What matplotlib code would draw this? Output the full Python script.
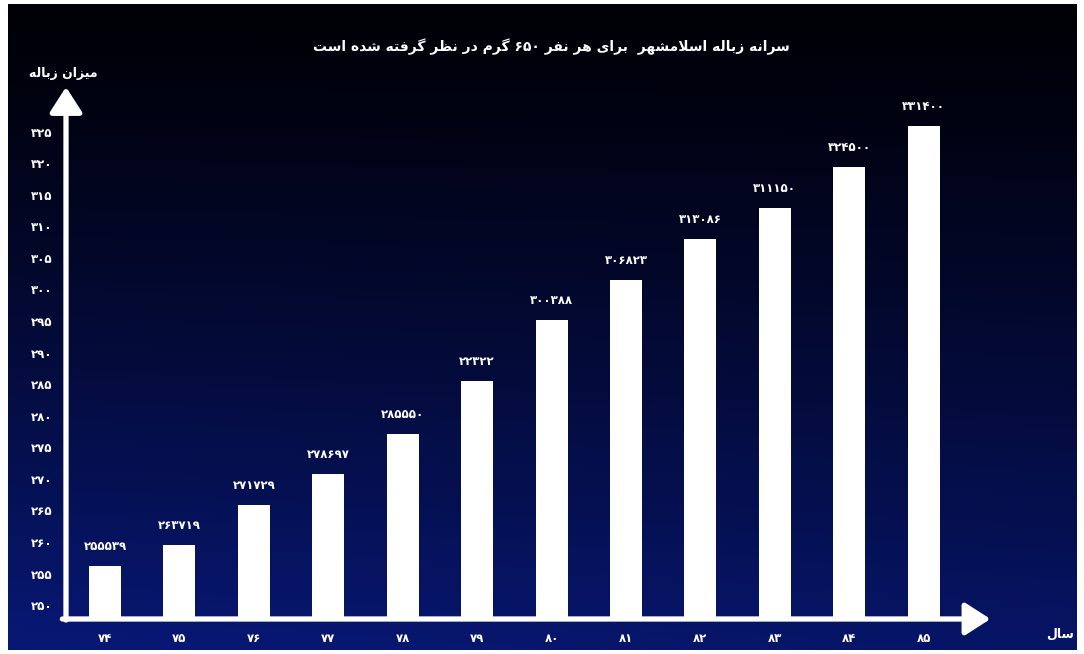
import matplotlib
matplotlib.use('Agg')
import matplotlib.pyplot as plt
import numpy as np

plt.rcParams['font.family'] = ['DejaVu Sans']

# ---------- Data ----------
years = [74, 75, 76, 77, 78, 79, 80, 81, 82, 83, 84, 85]
# bar tops as drawn, read against the y axis (thousand-unit scale)
bar_tops = [256.2, 259.5, 265.8, 270.7, 277.1, 285.5, 295.2, 301.5, 308.0, 312.9, 319.4, 325.9]
# value text printed above each bar
value_labels = ['255539', '263719', '271729', '278697', '285550', '22322',
                '300388', '306823', '313086', '311150', '324500', '331400']
y_ticks = [250, 255, 260, 265, 270, 275, 280, 285, 290, 295, 300, 305, 310, 315, 320, 325]

title_txt = 'سرانه زباله اسلامشهر  برای هر نفر 650 گرم در نظر گرفته شده است'
ylabel_txt = 'میزان زباله'
xlabel_txt = 'سال'

# ---------- Persian text helpers (matplotlib has no shaping / bidi) ----------
FA_DIGITS = str.maketrans('0123456789', '۰۱۲۳۴۵۶۷۸۹')

FORMS = {  # isolated, final, initial, medial
    'ا': ('\uFE8D', '\uFE8E', None, None),
    'ب': ('\uFE8F', '\uFE90', '\uFE91', '\uFE92'),
    'ت': ('\uFE95', '\uFE96', '\uFE97', '\uFE98'),
    'د': ('\uFEA9', '\uFEAA', None, None),
    'ر': ('\uFEAD', '\uFEAE', None, None),
    'ز': ('\uFEAF', '\uFEB0', None, None),
    'س': ('\uFEB1', '\uFEB2', '\uFEB3', '\uFEB4'),
    'ش': ('\uFEB5', '\uFEB6', '\uFEB7', '\uFEB8'),
    'ظ': ('\uFEC5', '\uFEC6', '\uFEC7', '\uFEC8'),
    'ف': ('\uFED1', '\uFED2', '\uFED3', '\uFED4'),
    'ل': ('\uFEDD', '\uFEDE', '\uFEDF', '\uFEE0'),
    'م': ('\uFEE1', '\uFEE2', '\uFEE3', '\uFEE4'),
    'ن': ('\uFEE5', '\uFEE6', '\uFEE7', '\uFEE8'),
    'ه': ('\uFEE9', '\uFEEA', '\uFEEB', '\uFEEC'),
    'ی': ('\uFBFC', '\uFBFD', '\uFBFE', '\uFBFF'),
    'گ': ('\uFB92', '\uFB93', '\uFB94', '\uFB95'),
}


def shape_word(word):
    if not any(c in FORMS for c in word):
        return word.translate(FA_DIGITS)
    out = []
    i = 0
    n = len(word)
    while i < n:
        c = word[i]
        prev = word[i - 1] if i > 0 else None
        joins_prev = prev is not None and prev in FORMS and FORMS[prev][2] is not None
        if c == 'ل' and i + 1 < n and word[i + 1] == 'ا':
            out.append('\uFEFC' if joins_prev else '\uFEFB')
            i += 2
            continue
        nxt = word[i + 1] if i + 1 < n else None
        joins_next = nxt is not None and nxt in FORMS and FORMS[c][2] is not None
        iso, fin, ini, med = FORMS[c]
        if joins_prev and joins_next:
            out.append(med)
        elif joins_prev:
            out.append(fin)
        elif joins_next:
            out.append(ini)
        else:
            out.append(iso)
        i += 1
    return ''.join(reversed(out))


def fa(text):
    words = text.split(' ')
    return ' '.join(shape_word(w) for w in reversed(words))


# ---------- Figure ----------
W, H = 1084, 654
fig = plt.figure(figsize=(W / 100, H / 100), dpi=100)
fig.patch.set_facecolor('white')

# dark navy gradient panel
bg = fig.add_axes([8 / W, 4 / H, (1077 - 8) / W, (650 - 4) / H])
bg.set_axis_off()
gy, gx = np.mgrid[0:1:300j, 0:1:300j]
t = np.clip(gy * 0.88 + 0.12 * (1 - gx) * gy, 0, 1) ** 1.2
top_c = np.array([0, 0, 6]) / 255
bot_c = np.array([8, 24, 118]) / 255
img = top_c + (bot_c - top_c) * t[..., None]
bg.imshow(img, extent=[0, 1, 0, 1], aspect='auto', origin='upper')
bg.set_xlim(0, 1)
bg.set_ylim(0, 1)

# main axes
ax = fig.add_axes([66 / W, (H - 619) / H, 909 / W, 519 / H])
ax.set_facecolor('none')

x = np.arange(len(years))
ymin = 247.8
heights = [v - ymin for v in bar_tops]
ax.bar(x, heights, bottom=ymin, width=0.43, color='white', edgecolor='none', zorder=3)

for xi, top, lab in zip(x, bar_tops, value_labels):
    ax.annotate(lab.translate(FA_DIGITS), xy=(xi, top), xytext=(0, 14),
                textcoords='offset points', ha='center', va='center',
                fontsize=8.5, fontweight='bold', color='white', zorder=4)

ax.set_xlim(-0.524, 11.69)
ax.set_ylim(ymin, 330.0)
ax.set_xticks(x)
ax.set_xticklabels([str(y).translate(FA_DIGITS) for y in years])
ax.set_yticks(y_ticks)
ax.set_yticklabels([str(v).translate(FA_DIGITS) for v in y_ticks])
ax.tick_params(axis='both', length=0, colors='white', labelsize=8.5)
ax.tick_params(axis='y', pad=10)
ax.tick_params(axis='x', pad=9)
for lbl in ax.get_xticklabels() + ax.get_yticklabels():
    lbl.set_fontweight('bold')
for sp in ax.spines.values():
    sp.set_visible(False)

# white axis arrows
arrow_kw = dict(arrowstyle='-|>,head_length=0.7,head_width=0.45', lw=3.8,
                color='white', mutation_scale=22, shrinkA=0, shrinkB=0)
ax.annotate('', xy=(0, 1.025), xytext=(0, -0.002), xycoords='axes fraction',
            arrowprops=arrow_kw, annotation_clip=False, zorder=5)
ax.annotate('', xy=(1.017, 0.0), xytext=(-0.004, 0.0), xycoords='axes fraction',
            arrowprops=arrow_kw, annotation_clip=False, zorder=5)

# texts
fig.text(551 / W, 1 - 47 / H, fa(title_txt), ha='center', va='center',
         fontsize=10, fontweight='bold', color='white')
fig.text(63 / W, 1 - 73 / H, fa(ylabel_txt), ha='center', va='center',
         fontsize=9, fontweight='bold', color='white')
fig.text(1060 / W, 1 - 634 / H, fa(xlabel_txt), ha='center', va='center',
         fontsize=9, fontweight='bold', color='white')

fig.savefig('out.png', dpi=100, facecolor=fig.get_facecolor())
